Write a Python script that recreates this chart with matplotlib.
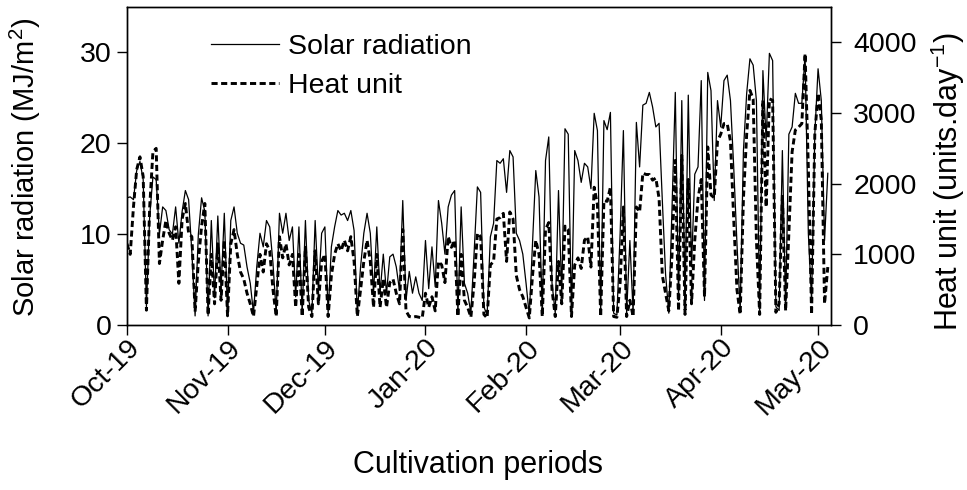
import matplotlib
matplotlib.use("Agg")
import matplotlib.pyplot as plt
import matplotlib.dates as mdates
import pandas as pd

plt.rcParams["font.family"] = ["Liberation Sans", "DejaVu Sans"]
plt.rcParams["mathtext.fontset"] = "custom"
plt.rcParams["mathtext.rm"] = "Liberation Sans"
plt.rcParams["mathtext.it"] = "Liberation Sans"

START_DATE = "2019-10-01"

# daily solar radiation (MJ/m2)
solar_radiation = [
    14.0, 14.1, 13.8, 17.0, 18.0, 16.0, 2.0, 12.0, 16.3, 16.0,
    10.0, 13.0, 12.6, 10.5, 10.0, 13.0, 9.0, 12.5, 14.8, 13.8,
    8.0, 1.0, 10.0, 14.0, 12.5, 1.0, 11.5, 3.0, 12.0, 4.0,
    12.3, 1.3, 11.5, 13.0, 10.1, 9.0, 8.8, 6.4, 4.6, 1.3,
    6.4, 10.1, 8.6, 11.5, 10.8, 6.8, 1.3, 12.3, 10.1, 12.3,
    9.3, 10.8, 3.1, 10.8, 1.3, 11.5, 2.7, 1.3, 11.5, 3.8,
    10.1, 10.8, 1.3, 8.6, 10.8, 12.6, 12.1, 12.3, 11.5, 12.6,
    10.4, 1.3, 6.4, 10.1, 12.3, 10.1, 3.5, 10.8, 3.5, 7.8,
    3.5, 7.5, 7.8, 6.4, 3.8, 13.7, 2.7, 5.9, 3.5, 5.3,
    3.5, 2.7, 9.3, 4.0, 8.6, 4.2, 13.7, 11.2, 7.8, 13.0,
    14.3, 14.8, 1.3, 13.0, 4.6, 3.5, 1.3, 8.0, 15.2, 14.6,
    2.0, 1.1, 9.7, 11.2, 18.1, 17.8, 18.3, 14.6, 19.2, 18.5,
    10.1, 9.3, 7.8, 4.6, 1.1, 9.0, 17.0, 14.1, 1.3, 18.1,
    20.7, 4.6, 1.3, 14.8, 3.5, 21.6, 21.0, 1.3, 19.2, 18.1,
    15.7, 17.8, 17.4, 15.0, 23.3, 21.4, 1.3, 22.5, 21.5, 23.4,
    1.3, 1.1, 10.1, 21.4, 1.3, 9.3, 1.3, 22.3, 17.4, 24.2,
    24.4, 25.6, 24.0, 21.8, 22.2, 13.7, 5.6, 1.3, 13.0, 25.6,
    2.7, 24.7, 2.4, 25.3, 6.4, 16.6, 17.4, 26.9, 2.7, 27.8,
    25.8, 13.7, 24.7, 21.8, 26.9, 27.5, 24.7, 17.4, 9.0, 1.6,
    19.2, 25.5, 29.3, 28.6, 24.7, 1.6, 28.0, 20.3, 29.9, 29.1,
    2.0, 1.6, 19.2, 2.0, 21.0, 21.8, 25.5, 24.4, 24.4, 29.7,
    10.1, 2.7, 21.0, 28.2, 24.7, 9.3, 16.7,
]

# daily heat units (units/day)
heat_unit = [
    1150, 1000, 1670, 2200, 2380, 2100, 210, 1670, 2450, 2500,
    870, 1200, 1480, 1300, 1200, 1390, 590, 1500, 1720, 1300,
    1250, 190, 900, 1400, 1720, 140, 1000, 300, 1150, 350,
    1200, 130, 1150, 1350, 1000, 750, 650, 450, 300, 120,
    550, 1000, 750, 1150, 1050, 500, 120, 1250, 950, 1150,
    850, 1000, 250, 1000, 120, 1100, 250, 120, 1050, 300,
    900, 1000, 120, 700, 1000, 1150, 1050, 1200, 1050, 1250,
    900, 120, 500, 900, 1200, 900, 250, 1000, 250, 650,
    250, 600, 650, 450, 300, 1350, 200, 120, 110, 120,
    110, 100, 450, 250, 400, 200, 900, 850, 600, 1250,
    1100, 1200, 120, 1000, 350, 250, 110, 600, 1300, 1250,
    150, 100, 850, 900, 1500, 1520, 1580, 900, 1600, 1500,
    700, 500, 400, 250, 100, 700, 1200, 1000, 120, 1350,
    1450, 500, 120, 900, 300, 1400, 1350, 120, 850, 950,
    800, 1200, 1250, 820, 1950, 1700, 120, 1760, 1750, 1950,
    120, 110, 600, 1670, 120, 350, 120, 1670, 1600, 2150,
    2130, 2130, 2050, 2080, 1790, 700, 450, 200, 1000, 2330,
    200, 2400, 150, 2060, 300, 1200, 1790, 2060, 400, 2520,
    1840, 1800, 2600, 2700, 2850, 2850, 2600, 1500, 500, 150,
    1790, 2700, 3320, 3200, 1200, 150, 3180, 1670, 3200, 3180,
    180, 300, 1840, 200, 1300, 2450, 2760, 2800, 2850, 3840,
    2240, 150, 2710, 3280, 2900, 300, 820,
]

month_ticks = ["2019-10-01", "2019-11-01", "2019-12-01", "2020-01-01",
               "2020-02-01", "2020-03-01", "2020-04-01", "2020-05-01"]


def main() -> None:
    dates = pd.date_range(START_DATE, periods=len(solar_radiation), freq="D")

    fig = plt.figure(figsize=(9.67, 4.9), dpi=100)
    ax = fig.add_axes([0.1313, 0.3367, 0.7281, 0.649])
    ax2 = ax.twinx()

    (l1,) = ax.plot(dates, solar_radiation, color="black", lw=0.9,
                    label="Solar radiation")
    (l2,) = ax2.plot(dates, heat_unit, color="black", lw=2.1,
                     dashes=(2.1, 1.2), label="Heat unit")

    ax.set_xlim(pd.Timestamp("2019-10-01"), pd.Timestamp("2020-05-05"))
    ax.set_ylim(0, 35)
    ax.set_yticks([0, 10, 20, 30])
    ax2.set_ylim(0, 4500)
    ax2.set_yticks([0, 1000, 2000, 3000, 4000])

    ax.set_xticks(pd.to_datetime(month_ticks))
    ax.xaxis.set_major_formatter(mdates.DateFormatter("%b-%y"))

    for a in (ax, ax2):
        a.tick_params(direction="out", length=7, width=1, labelsize=20.5,
                      colors="black", pad=4)
        for sp in a.spines.values():
            sp.set_linewidth(1.0)
    ax2.tick_params(axis="y", pad=9)
    ax.tick_params(axis="x", pad=0)
    for lab in ax.get_xticklabels():
        lab.set_rotation(45)
        lab.set_ha("right")
        lab.set_rotation_mode("anchor")

    ax.set_ylabel("Solar radiation (MJ/m$^2$)", fontsize=21)
    ax.yaxis.set_label_coords(-0.119, 0.497)
    ax2.set_ylabel("Heat unit (units.day$^{-1}$)", fontsize=22)
    ax2.yaxis.set_label_coords(1.139, 0.45)
    ax.set_xlabel("Cultivation periods", fontsize=22)
    ax.xaxis.set_label_coords(0.4986, -0.392)

    ax.legend([l1, l2], ["Solar radiation", "Heat unit"], loc="upper left",
              bbox_to_anchor=(0.119, 0.916), borderaxespad=0, borderpad=0,
              frameon=False, fontsize=20.5, handlelength=2.4,
              handletextpad=0.3, labelspacing=0.45)

    fig.savefig("out.png", dpi=100)
    plt.close(fig)


if __name__ == "__main__":
    main()
